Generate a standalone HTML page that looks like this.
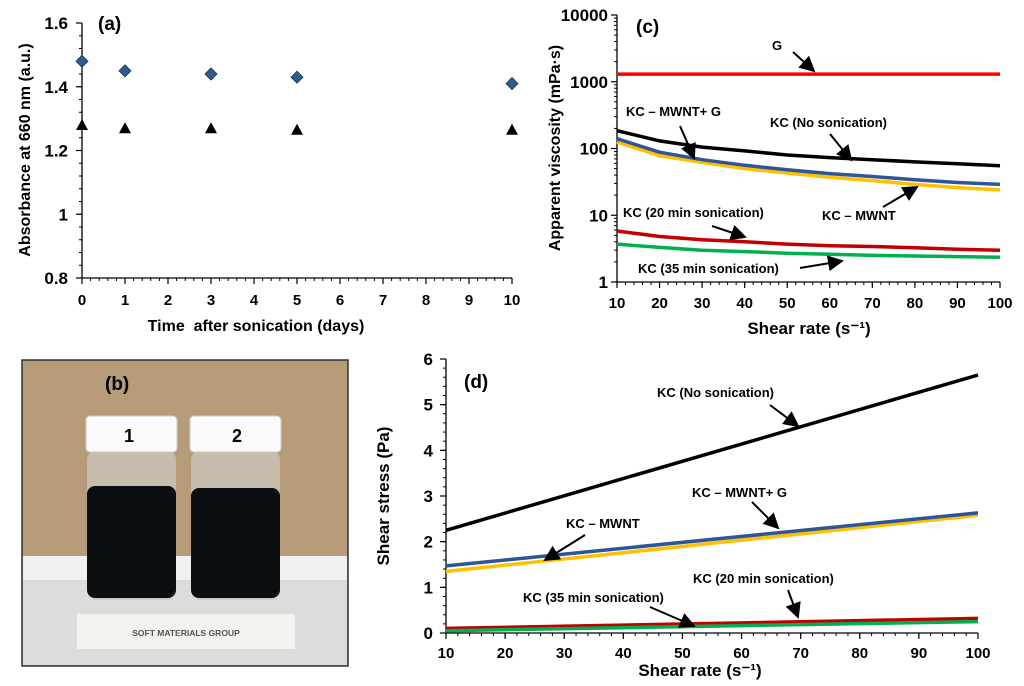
<!DOCTYPE html>
<html><head><meta charset="utf-8"><style>
html,body{margin:0;padding:0;background:#fff}
svg{display:block;font-family:"Liberation Sans",Arial,sans-serif;font-weight:bold}
</style></head><body>
<svg id="fig" width="1024" height="686" viewBox="0 0 1024 686" xmlns="http://www.w3.org/2000/svg">
<defs><marker id="ah" markerWidth="8" markerHeight="8" refX="7" refY="4" orient="auto"><path d="M0,0 L8,4 L0,8 z" fill="#000"/></marker></defs>
<g id="pa"></g>
<g id="pb">
  <rect x="22" y="360" width="326" height="306" fill="#b59b78" stroke="#333" stroke-width="1.5"/>
  <rect x="23" y="556" width="324" height="24" fill="#f0f0f0"/>
  <rect x="23" y="580" width="324" height="85" fill="#dcdcdc"/>
  <rect x="77" y="614" width="218" height="35" fill="#f4f2ee"/>
  <text x="186" y="636" font-size="8.5" text-anchor="middle" fill="#555">SOFT MATERIALS  GROUP</text>
  <g>
    <rect x="87" y="450" width="89" height="150" rx="10" fill="#c9c4ba" opacity="0.8"/>
    <rect x="87" y="486" width="89" height="112" rx="8" fill="#0c0f12"/>
    <rect x="86" y="416" width="91" height="36" rx="4" fill="#fafafa" stroke="#ccc"/>
    <text x="129" y="442" font-size="18" text-anchor="middle" fill="#000">1</text>
  </g>
  <g>
    <rect x="191" y="450" width="89" height="150" rx="10" fill="#c9c4ba" opacity="0.8"/>
    <rect x="191" y="488" width="89" height="110" rx="8" fill="#0c0f12"/>
    <rect x="190" y="416" width="91" height="36" rx="4" fill="#fafafa" stroke="#ccc"/>
    <text x="237" y="442" font-size="18" text-anchor="middle" fill="#000">2</text>
  </g>
  <text x="105" y="390" font-size="19" fill="#000">(b)</text>
</g>
<g id="pc"></g>
<g id="pd"></g>
</svg>
<script>
// ---- Panel (a) data
const aDays = [0, 1, 3, 5, 10];
const aDiamond = [1.48, 1.45, 1.44, 1.43, 1.41];
const aTriangle = [1.28, 1.27, 1.27, 1.265, 1.265];
const aXTicks = [0,1,2,3,4,5,6,7,8,9,10];
const aYTicks = [0.8, 1, 1.2, 1.4, 1.6];
// ---- Panel (c) data
const cRates = [10, 20, 30, 40, 50, 60, 70, 80, 90, 100];
const cG = [1300,1300,1300,1300,1300,1300,1300,1300,1300,1300];
const cNoSon = [185, 130, 105, 92, 80, 73, 68, 63, 59, 55];
const cMwntG = [140, 88, 68, 56, 48, 42, 38, 34, 31, 29];
const cMwnt = [125, 78, 62, 50, 43, 37, 33, 29, 26, 24];
const c20 = [5.8, 4.8, 4.3, 4.0, 3.7, 3.5, 3.4, 3.25, 3.1, 3.0];
const c35 = [3.7, 3.3, 3.0, 2.85, 2.7, 2.6, 2.5, 2.45, 2.4, 2.35];
const cXTicks = [10,20,30,40,50,60,70,80,90,100];
const cYTicks = [1, 10, 100, 1000, 10000];
// ---- Panel (d) data
const dRates = [10, 100];
const dNoSon = [2.25, 5.65];
const dMwntG = [1.47, 2.63];
const dMwnt = [1.35, 2.58];
const d20 = [0.1, 0.32];
const d35 = [0.05, 0.25];
const dXTicks = [10,20,30,40,50,60,70,80,90,100];
const dYTicks = [0,1,2,3,4,5,6];

const NS = "http://www.w3.org/2000/svg";
function mk(parent, tag, attrs, text){
  const e = document.createElementNS(NS, tag);
  for (const k in attrs) e.setAttribute(k, attrs[k]);
  if (text !== undefined) e.textContent = text;
  parent.appendChild(e);
  return e;
}
function axes(g, L, R, T, B, xs, ys, xt, yt, xMinor, yMinorVals, xtY, ytX){
  let e = mk(g,'line',{x1:L,y1:T,x2:L,y2:B,stroke:'#000','stroke-width':1.3});
   
  e = mk(g,'line',{x1:L,y1:B,x2:R,y2:B,stroke:'#000','stroke-width':1.3});
   
  xMinor.forEach(v=>{ mk(g,'line',{x1:xs(v),y1:B,x2:xs(v),y2:B+3,stroke:'#000','stroke-width':1}); });
  yMinorVals.forEach(v=>{ mk(g,'line',{x1:L-3,y1:ys(v),x2:L,y2:ys(v),stroke:'#000','stroke-width':1}); });
  xt.forEach(v=>{
    mk(g,'line',{x1:xs(v),y1:B,x2:xs(v),y2:B+6,stroke:'#000','stroke-width':1.2});
    const t = mk(g,'text',{x:xs(v),y:xtY,'font-size':15,'text-anchor':'middle'}, String(v));
     
  });
  yt.forEach(v=>{
    mk(g,'line',{x1:L-6,y1:ys(v),x2:L,y2:ys(v),stroke:'#000','stroke-width':1.2});
    const t = mk(g,'text',{x:ytX,y:ys(v)+6,'font-size':17,'text-anchor':'end'}, String(v));
     
  });
}
function label(g, x, y, s, name, size){
  const t = mk(g,'text',{x:x,y:y,'font-size':size||13}, s);
   
  return t;
}
function arrow(g, x1,y1,x2,y2, name){
  const a = mk(g,'line',{x1:x1,y1:y1,x2:x2,y2:y2,stroke:'#000','stroke-width':2,'marker-end':'url(#ah)'});
   
}
function series(g, xsArr, ysArr, xs, ys, color, w, name){
  const d = xsArr.map((x,i)=>(i?'L':'M')+xs(x).toFixed(1)+','+ys(ysArr[i]).toFixed(1)).join(' ');
  const p = mk(g,'path',{d:d,fill:'none',stroke:color,'stroke-width':w,'stroke-linejoin':'round'});
   
}

// ===== Panel (a)
(function(){
  const g = document.getElementById('pa');
  const L=82,R=512,T=23,B=278;
  const xs = v => L + (v-0)/10*(R-L);
  const ys = v => B - (v-0.8)/0.8*(B-T);
  const xm=[]; for(let v=0; v<=10.001; v+=0.2) xm.push(v);
  const ym=[]; for(let v=0.8; v<=1.6001; v+=0.04) ym.push(v);
  axes(g,L,R,T,B,xs,ys,aXTicks,aYTicks,xm,ym,305,68);
  aDays.forEach((d,i)=>{
    const x=xs(d), y=ys(aDiamond[i]);
    const p = mk(g,'path',{d:`M${x},${y-6} L${x+6},${y} L${x},${y+6} L${x-6},${y} z`,fill:'#2f5b8f',stroke:'#1a2f4a','stroke-width':0.8});
     
    const y2=ys(aTriangle[i]);
    const t = mk(g,'path',{d:`M${x},${y2-6} L${x+6},${y2+5} L${x-6},${y2+5} z`,fill:'#000'});
     
  });
  label(g,98,30,'(a)','panel-a-label',19);
  label(g,256,331,'Time\u00a0 after sonication (days)','x-axis-title',16).setAttribute('text-anchor','middle');
  const yt = label(g,0,0,'Absorbance at 660 nm (a.u.)','y-axis-title',16);
  yt.setAttribute('text-anchor','middle'); yt.setAttribute('transform','translate(30,150) rotate(-90)');
})();

// ===== Panel (c)
(function(){
  const g = document.getElementById('pc');
  const L=617,R=1000,T=15,B=282;
  const xs = v => L + (v-10)/90*(R-L);
  const ys = v => B - Math.log10(v)/4*(B-T);
  const xm=[]; for(let v=10; v<=100; v+=2) xm.push(v);
  const ym=[]; [1,10,100,1000].forEach(d=>{for(let k=2;k<10;k++) ym.push(d*k);});
  axes(g,L,R,T,B,xs,ys,cXTicks,cYTicks,xm,ym,308,608);
  series(g,cRates,cG,xs,ys,'#ff0000',3.5,'line-g');
  series(g,cRates,cNoSon,xs,ys,'#000',3.5,'line-no-sonication');
  series(g,cRates,cMwnt,xs,ys,'#ffc000',3.5,'line-kc-mwnt');
  series(g,cRates,cMwntG,xs,ys,'#2e5597',3.5,'line-kc-mwnt-g');
  series(g,cRates,c20,xs,ys,'#c00000',3.5,'line-20-min');
  series(g,cRates,c35,xs,ys,'#00b050',3.5,'line-35-min');
  label(g,636,33,'(c)','panel-c-label',19);
  label(g,772,50,'G','annot-g');
  arrow(g,793,52,814,71,'arrow-g');
  label(g,626,116,'KC – MWNT+ G','annot-mwnt-g');
  arrow(g,680,126,694,158,'arrow-mwnt-g');
  label(g,770,127,'KC (No sonication)','annot-no-sonication');
  arrow(g,830,134,851,160,'arrow-no-sonication');
  label(g,822,220,'KC – MWNT','annot-mwnt');
  arrow(g,883,207,917,187,'arrow-mwnt');
  label(g,623,217,'KC (20 min sonication)','annot-20-min');
  arrow(g,712,226,745,237,'arrow-20-min');
  label(g,638,273,'KC (35 min sonication)','annot-35-min');
  arrow(g,800,268,842,261,'arrow-35-min');
  label(g,809,334,'Shear rate (s⁻¹)','x-axis-title',17).setAttribute('text-anchor','middle');
  const yt = label(g,0,0,'Apparent viscosity (mPa·s)','y-axis-title',16);
  yt.setAttribute('text-anchor','middle'); yt.setAttribute('transform','translate(560,148) rotate(-90)');
})();

// ===== Panel (d)
(function(){
  const g = document.getElementById('pd');
  const L=446,R=978,T=359,B=633;
  const xs = v => L + (v-10)/90*(R-L);
  const ys = v => B - v/6*(B-T);
  const xm=[]; for(let v=10; v<=100; v+=2) xm.push(v);
  const ym=[]; for(let v=0; v<=6.001; v+=0.2) ym.push(v);
  axes(g,L,R,T,B,xs,ys,dXTicks,dYTicks,xm,ym,658,433);
  series(g,dRates,dNoSon,xs,ys,'#000',3.5,'line-no-sonication');
  series(g,dRates,dMwnt,xs,ys,'#ffc000',3.5,'line-kc-mwnt');
  series(g,dRates,dMwntG,xs,ys,'#2e5597',3.5,'line-kc-mwnt-g');
  series(g,dRates,d20,xs,ys,'#c00000',3.5,'line-20-min');
  series(g,dRates,d35,xs,ys,'#00b050',3.5,'line-35-min');
  label(g,464,388,'(d)','panel-d-label',19);
  label(g,657,397,'KC (No sonication)','annot-no-sonication');
  arrow(g,770,405,798,426,'arrow-no-sonication');
  label(g,692,497,'KC – MWNT+ G','annot-mwnt-g');
  arrow(g,752,502,778,528,'arrow-mwnt-g');
  label(g,566,528,'KC – MWNT','annot-mwnt');
  arrow(g,585,535,545,560,'arrow-mwnt');
  label(g,693,583,'KC (20 min sonication)','annot-20-min');
  arrow(g,788,590,798,617,'arrow-20-min');
  label(g,523,602,'KC (35 min sonication)','annot-35-min');
  arrow(g,650,607,694,626,'arrow-35-min');
  label(g,700,676,'Shear rate (s⁻¹)','x-axis-title',17).setAttribute('text-anchor','middle');
  const yt = label(g,0,0,'Shear stress (Pa)','y-axis-title',17);
  yt.setAttribute('text-anchor','middle'); yt.setAttribute('transform','translate(389,496) rotate(-90)');
})();
</script>
</body></html>
